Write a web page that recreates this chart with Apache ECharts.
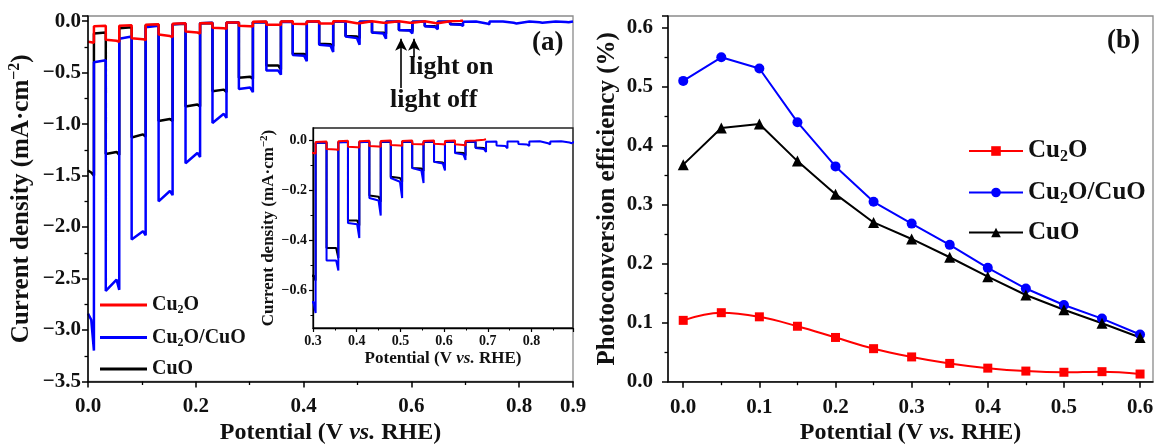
<!DOCTYPE html>
<html><head><meta charset="utf-8">
<script src="https://cdn.jsdelivr.net/npm/echarts@6/dist/echarts.min.js"></script>
<style>html,body{margin:0;padding:0;background:#fff}#c{width:1157px;height:446px}</style>
</head><body><div id="c"></div>
<script>
// ===== Panel (a): chopped-light current density vs potential =====
// potentials where the light is switched off / on (V vs. RHE)
const tOff = [0.011,0.058,0.107,0.157,0.208,0.257,0.306,0.358,0.406,0.455,0.504,0.553,0.602,0.649,0.696,0.745,0.795,0.843,0.892];
const tOn  = [0.033,0.081,0.131,0.181,0.231,0.280,0.331,0.380,0.429,0.478,0.527,0.577,0.625,0.672,0.720,0.770,0.819,0.868];
const scanEnd = 0.9;
const kneeWidth = 0.005;   // width of the current spike at the end of each light period (V)

// light periods: [start, before spike, end] (mA/cm2); dark periods: [start, end]
const blueLight = [[-2.84,-2.90,-3.20],[-2.62,-2.51,-2.61],[-2.12,-2.04,-2.08],[-1.75,-1.65,-1.69],[-1.38,-1.28,-1.32],
  [-0.99,-0.90,-0.94],[-0.66,-0.645,-0.69],[-0.48,-0.48,-0.52],[-0.33,-0.335,-0.39],[-0.23,-0.24,-0.30],
  [-0.15,-0.165,-0.23],[-0.11,-0.12,-0.17],[-0.085,-0.092,-0.12],[-0.05,-0.056,-0.078],[-0.03,-0.034,-0.046],
  [-0.02,-0.022,-0.031],[-0.014,-0.016,-0.022],[-0.01,-0.011,-0.015],[-0.007,-0.008,-0.011]];
const blueDark = [[-0.40,-0.38],[-0.17,-0.15],[-0.06,-0.045],[-0.03,-0.022],[-0.02,-0.016],[-0.015,-0.012],
  [-0.01,-0.008],[-0.008,-0.006],[-0.007,-0.005],[-0.005,-0.004],[-0.005,-0.004],[-0.005,-0.004],[-0.005,-0.004],
  [-0.005,-0.004],[-0.005,-0.004],[-0.004,-0.004],[-0.004,-0.003],[-0.004,-0.003],[-0.003,-0.003]];
const redLight = [[-0.20,-0.205,-0.21],[-0.18,-0.19,-0.20],[-0.165,-0.175,-0.185],[-0.13,-0.145,-0.155],[-0.10,-0.11,-0.12],
  [-0.065,-0.07,-0.073],[-0.045,-0.05,-0.052],[-0.034,-0.036,-0.038],[-0.025,-0.027,-0.028],[-0.022,-0.024,-0.025],
  [-0.018,-0.02,-0.021],[-0.014,-0.015,-0.016],[-0.013,-0.015,-0.016],[-0.015,-0.018,-0.02],[-0.002,0.003,0.005]];
const redDark = [[-0.05,-0.045],[-0.045,-0.04],[-0.035,-0.03],[-0.025,-0.02],[-0.02,-0.017],[-0.014,-0.012],
  [-0.006,-0.004],[-0.003,-0.001],[-0.003,-0.001],[-0.002,0],[-0.002,0],[-0.002,0],[-0.002,0],[-0.002,0]];
const blackLight = [[-1.45,-1.47,-1.50],[-1.29,-1.27,-1.30],[-1.13,-1.10,-1.12],[-0.97,-0.95,-0.97],[-0.83,-0.81,-0.83],
  [-0.68,-0.665,-0.69],[-0.55,-0.54,-0.56],[-0.43,-0.43,-0.47],[-0.32,-0.32,-0.34],[-0.22,-0.225,-0.245],
  [-0.145,-0.15,-0.165],[-0.11,-0.112,-0.122],[-0.085,-0.088,-0.10],[-0.048,-0.05,-0.06],[-0.028,-0.03,-0.038]];
const blackDark = [[-0.12,-0.11],[-0.07,-0.06],[-0.04,-0.035],[-0.03,-0.025],[-0.02,-0.018],[-0.015,-0.012],
  [-0.01,-0.008],[-0.006,-0.005],[-0.006,-0.005],[-0.006,-0.005],[-0.006,-0.005],[-0.006,-0.005],[-0.006,-0.005],[-0.006,-0.005]];

// ===== Panel (b): photoconversion efficiency =====
const potB = [0,0.05,0.1,0.15,0.2,0.25,0.3,0.35,0.4,0.45,0.5,0.55,0.6];
const effCu2O    = [0.104,0.117,0.110,0.094,0.075,0.056,0.042,0.031,0.023,0.018,0.016,0.017,0.013];
const effCu2OCuO = [0.510,0.550,0.531,0.440,0.365,0.305,0.268,0.232,0.193,0.158,0.130,0.107,0.080];
const effCuO     = [0.368,0.430,0.437,0.374,0.318,0.270,0.242,0.211,0.178,0.147,0.122,0.099,0.075];

// tick values
const bXMajor = [0,0.1,0.2,0.3,0.4,0.5,0.6];
const bXMinor = [0.05,0.15,0.25,0.35,0.45,0.55];
const insetYMajor = [0,-0.2,-0.4,-0.6];
const insetYMinor = [-0.1,-0.3,-0.5,-0.7];

function buildCurve(light, dark, endX) {
  const pts = [[0, light[0][0]], [tOff[0] - kneeWidth, light[0][1]], [tOff[0], light[0][2]]];
  for (let i = 0; i < dark.length; i++) {
    const x1 = i < tOn.length ? tOn[i] : endX;
    pts.push([tOff[i], dark[i][0]], [x1, dark[i][1]]);
    const L = light[i + 1];
    if (L && i < tOn.length) {
      pts.push([tOn[i], L[0]], [tOff[i + 1] - kneeWidth, L[1]], [tOff[i + 1], L[2]]);
    }
  }
  return pts;
}
const blueCurve = buildCurve(blueLight, blueDark, scanEnd);
const redCurve = buildCurve(redLight, redDark, scanEnd);
const blackCurve = buildCurve(blackLight, blackDark, scanEnd);

const SERIF = '"Liberation Serif","Times New Roman",serif';
const INK = '#111';
function fmt(v) { const s = Math.abs(v).toFixed(1); return v < -1e-9 ? '\u2212' + s : s; }

function nameStyle(size) {
  const base = {fontFamily: SERIF, fontWeight: 'bold', fontSize: size, color: INK, lineHeight: Math.round(size * 1.25), verticalAlign: 'middle'};
  return Object.assign({}, base, {rich: {
    t: Object.assign({}, base),
    i: Object.assign({}, base, {fontStyle: 'italic'}),
    sup: Object.assign({}, base, {fontSize: Math.round(size * 0.62), lineHeight: Math.round(size * 0.65), padding: [0, 0, Math.round(size * 0.58), 0]})
  }});
}
const potName = '{t|Potential (V }{i|vs.}{t| RHE)}';
const jName = '{t|Current density (mA\u00b7cm}{sup|\u22122}{t|)}';

function legendRich(size) {
  const lh = Math.round(size * 1.2);
  return {
    n: {fontFamily: SERIF, fontWeight: 'bold', fontSize: size, color: INK, lineHeight: lh, verticalAlign: 'middle'},
    s: {fontFamily: SERIF, fontWeight: 'bold', fontSize: Math.round(size * 0.62), color: INK, lineHeight: Math.round(size * 0.7), padding: [lh - Math.round(size * 0.7), 0, 0, 0], verticalAlign: 'middle'}
  };
}
function legendLabel(name) {
  const n = name.slice(2);
  return n.split('Cu2O').map(p => p ? '{n|' + p + '}' : '').join('{n|Cu}{s|2}{n|O}');
}

function valueAxis(o) {
  return Object.assign({
    type: 'value', z: 3, nameMoveOverlap: false,
    axisLine: {show: true, onZero: false, lineStyle: {color: '#000', width: 1.5}},
    axisTick: {show: true, inside: false, length: 6, lineStyle: {color: '#000', width: 1.5}},
    minorTick: {show: true, splitNumber: 2, length: 3.5, lineStyle: {color: '#000', width: 1.3}},
    splitLine: {show: false}, minorSplitLine: {show: false},
    axisLabel: {fontFamily: SERIF, fontWeight: 'bold', fontSize: 21, color: INK, margin: 15, formatter: fmt}
  }, o);
}

const chart = echarts.init(document.getElementById('c'), null, {renderer: 'canvas'});
const option = {
  backgroundColor: '#fff',
  animation: false,
  grid: [
    {left: 88, top: 16, width: 485, height: 365.5, show: true, borderColor: '#8a8a8a', borderWidth: 1.3, outerBoundsMode: 'none'},
    {left: 313, top: 128, width: 260, height: 200, show: true, borderColor: '#222', borderWidth: 1.3, outerBoundsMode: 'none'},
    {left: 668, top: 16, width: 485, height: 365.7, show: true, borderColor: '#8a8a8a', borderWidth: 1.3, outerBoundsMode: 'none'}
  ],
  xAxis: [
    valueAxis({gridIndex: 0, min: 0, max: 0.9, interval: 0.2,
      name: potName, nameLocation: 'middle', nameGap: 51, nameTextStyle: nameStyle(24)}),
    valueAxis({gridIndex: 1, min: 0.3, max: 0.895, interval: 0.1,
      axisTick: {show: true, length: 4, lineStyle: {color: '#000', width: 1.2}},
      minorTick: {show: true, splitNumber: 2, length: 2.5, lineStyle: {color: '#000', width: 1}},
      axisLine: {show: true, onZero: false, lineStyle: {color: '#000', width: 1.3}},
      axisLabel: {fontFamily: SERIF, fontWeight: 'bold', fontSize: 14, color: INK, margin: 6, formatter: fmt, showMaxLabel: false},
      name: potName, nameLocation: 'middle', nameGap: 31, nameTextStyle: nameStyle(17)}),
    valueAxis({gridIndex: 2, min: -0.02, max: 0.617,
      axisTick: {show: true, length: 6, customValues: bXMajor, lineStyle: {color: '#000', width: 1.5}},
      axisLabel: {fontFamily: SERIF, fontWeight: 'bold', fontSize: 21, color: INK, margin: 15, formatter: fmt, customValues: bXMajor},
      minorTick: {show: false},
      name: potName, nameLocation: 'middle', nameGap: 51, nameTextStyle: nameStyle(24)}),
    valueAxis({gridIndex: 2, min: -0.02, max: 0.617, position: 'bottom',
      axisLine: {show: false},
      axisTick: {show: true, length: 3.5, customValues: bXMinor, lineStyle: {color: '#000', width: 1.3}},
      axisLabel: {show: false}, minorTick: {show: false}})
  ],
  yAxis: [
    valueAxis({gridIndex: 0, min: -3.5, max: 0.05, interval: 0.5,
      axisLabel: {fontFamily: SERIF, fontWeight: 'bold', fontSize: 21, color: INK, margin: 7, formatter: fmt},
      name: jName, nameLocation: 'middle', nameGap: 66, nameTextStyle: nameStyle(25)}),
    valueAxis({gridIndex: 1, min: -0.75, max: 0.05,
      axisLine: {show: true, onZero: false, lineStyle: {color: '#000', width: 1.3}},
      axisTick: {show: true, length: 4, customValues: insetYMajor, lineStyle: {color: '#000', width: 1.2}},
      axisLabel: {fontFamily: SERIF, fontWeight: 'bold', fontSize: 14, color: INK, margin: 6, formatter: fmt, customValues: insetYMajor},
      minorTick: {show: false},
      name: jName, nameLocation: 'middle', nameGap: 44, nameTextStyle: nameStyle(17)}),
    valueAxis({gridIndex: 1, min: -0.75, max: 0.05, position: 'left',
      axisLine: {show: false},
      axisTick: {show: true, length: 2.5, customValues: insetYMinor, lineStyle: {color: '#000', width: 1}},
      axisLabel: {show: false}, minorTick: {show: false}}),
    valueAxis({gridIndex: 2, min: 0, max: 0.62, interval: 0.1,
      name: '{t|Photoconversion efficiency (%)}', nameLocation: 'middle', nameGap: 60, nameTextStyle: nameStyle(25)})
  ],
  legend: [
    {data: ['a:Cu2O', 'a:Cu2O/CuO', 'a:CuO'], orient: 'vertical', left: 100, top: 294, padding: 0,
      icon: 'rect', itemWidth: 47, itemHeight: 3, itemGap: 10.5,
      formatter: legendLabel, textStyle: {rich: legendRich(20)}},
    {data: ['b:Cu2O', 'b:Cu2O/CuO', 'b:CuO'], orient: 'vertical', left: 968, top: 137, padding: 0,
      itemWidth: 54, itemHeight: 12, itemGap: 13.5,
      formatter: legendLabel, textStyle: {rich: legendRich(25)}}
  ],
  graphic: [
    {type: 'text', left: 532, top: 30, style: {text: '(a)', font: 'bold 27px ' + SERIF, fill: INK}},
    {type: 'text', left: 1107, top: 28, style: {text: '(b)', font: 'bold 27px ' + SERIF, fill: INK}},
    {type: 'text', left: 409, top: 54, style: {text: 'light on', font: 'bold 26px ' + SERIF, fill: INK}},
    {type: 'text', left: 390, top: 87, style: {text: 'light off', font: 'bold 26px ' + SERIF, fill: INK}}
  ],
  series: [
    {name: 'a:CuO', type: 'line', xAxisIndex: 0, yAxisIndex: 0, data: blackCurve, symbol: 'none',
      lineStyle: {color: '#000', width: 2.5}, itemStyle: {color: '#000'}, z: 2,
      markLine: {silent: true, symbol: ['none', 'arrow'], symbolSize: [9, 12], label: {show: false},
        lineStyle: {color: '#000', width: 1.6, type: 'solid'},
        data: [[{coord: [0.581, -0.65]}, {coord: [0.581, -0.17]}], [{coord: [0.605, -0.35]}, {coord: [0.605, -0.17]}]]}},
    {name: 'a:Cu2O/CuO', type: 'line', xAxisIndex: 0, yAxisIndex: 0, data: blueCurve, symbol: 'none',
      lineStyle: {color: '#0000ff', width: 2.5}, itemStyle: {color: '#0000ff'}, z: 2},
    {name: 'a:Cu2O', type: 'line', xAxisIndex: 0, yAxisIndex: 0, data: redCurve, symbol: 'none',
      lineStyle: {color: '#ff0000', width: 2.5}, itemStyle: {color: '#ff0000'}, z: 2},
    {name: 'i:CuO', type: 'line', xAxisIndex: 1, yAxisIndex: 1, data: blackCurve, symbol: 'none',
      lineStyle: {color: '#000', width: 2}, z: 4},
    {name: 'i:Cu2O/CuO', type: 'line', xAxisIndex: 1, yAxisIndex: 1, data: blueCurve, symbol: 'none',
      lineStyle: {color: '#0000ff', width: 2}, z: 4},
    {name: 'i:Cu2O', type: 'line', xAxisIndex: 1, yAxisIndex: 1, data: redCurve, symbol: 'none',
      lineStyle: {color: '#ff0000', width: 2}, z: 4},
    {name: 'b:Cu2O', type: 'line', xAxisIndex: 2, yAxisIndex: 3, data: potB.map((x, i) => [x, effCu2O[i]]),
      smooth: 0.4, symbol: 'rect', symbolSize: 9, lineStyle: {color: '#ff0000', width: 2}, itemStyle: {color: '#ff0000'}},
    {name: 'b:Cu2O/CuO', type: 'line', xAxisIndex: 2, yAxisIndex: 3, data: potB.map((x, i) => [x, effCu2OCuO[i]]),
      symbol: 'circle', symbolSize: 10, lineStyle: {color: '#0000ff', width: 2}, itemStyle: {color: '#0000ff'}},
    {name: 'b:CuO', type: 'line', xAxisIndex: 2, yAxisIndex: 3, data: potB.map((x, i) => [x, effCuO[i]]),
      symbol: 'triangle', symbolSize: 11, lineStyle: {color: '#000', width: 2}, itemStyle: {color: '#000'}}
  ]
};
chart.setOption(option);
</script>
</body></html>
